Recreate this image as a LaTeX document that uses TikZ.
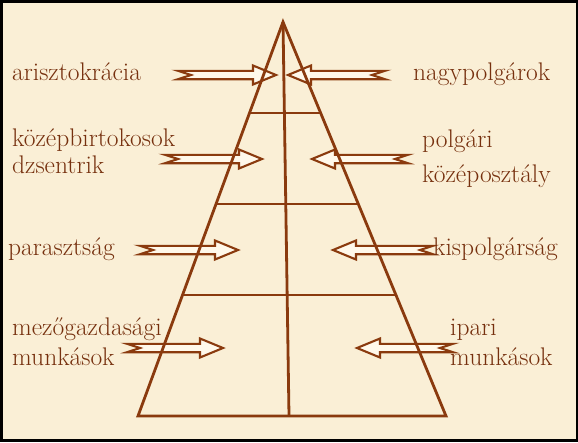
\documentclass[tikz,border=0pt]{standalone}
\usepackage{fontspec}
\usetikzlibrary{calc}

\definecolor{barna}{RGB}{138,58,14}
\definecolor{betu}{RGB}{118,48,14}
\definecolor{papir}{RGB}{250,239,214}
\definecolor{nyilbel}{RGB}{255,248,234}

\tikzset{
  cimke/.style={anchor=base west, inner sep=0pt, text=betu, font=\fontsize{25.5}{28}\selectfont},
  vonal/.style={draw=barna, line width=2.8pt},
  nyilkeret/.style={draw=barna, fill=nyilbel, line width=2.1pt},
}

% Bemetszett végű blokknyíl: #1 = vég x, #2 = csúcs x, #3 = y
\newcommand{\blokknyil}[3]{%
  \pgfmathsetmacro{\irany}{sign(#2-#1)}
  \draw[nyilkeret] (#1,#3-4.2) -- ({#2-\irany*23},#3-4.2) -- ({#2-\irany*23},#3-9.5)
    -- (#2,#3) -- ({#2-\irany*23},#3+9.5) -- ({#2-\irany*23},#3+4.2) -- (#1,#3+4.2)
    -- ({#1+\irany*13},#3) -- cycle;
}

\begin{document}
\begin{tikzpicture}[x=1pt,y=-1pt]
  % Keret és háttér
  \useasboundingbox (0,0) rectangle (578,442);
  \fill[black] (0,0) rectangle (578,442);
  \fill[papir] (3,3) rectangle (576,439);

  % Nyilak a piramis felé
  \blokknyil{178}{276}{75}
  \blokknyil{385}{288}{75}
  \blokknyil{165}{262}{159}
  \blokknyil{408}{312}{159}
  \blokknyil{140}{238}{250}
  \blokknyil{433}{333}{250}
  \blokknyil{127}{223}{348}
  \blokknyil{453}{357}{348}

  % Piramis
  \coordinate (csucs) at (283,22);
  \coordinate (bal) at (138,416);
  \coordinate (jobb) at (446,416);
  \coordinate (kozep) at (289,416);
  \draw[vonal] (bal) -- (csucs) -- (jobb) -- cycle;
  \draw[vonal] (csucs) -- (kozep);
  % Szintek
  \foreach \t in {0.231,0.462,0.693}
    \draw[vonal] ($(csucs)!\t!(bal)$) -- ($(csucs)!\t!(jobb)$);

  % Bal oldali feliratok
  \node[cimke] (ariszt) at (12,80) {arisztokrácia};
  \node[cimke] (kozepbirt) at (12,146) {középbirtokosok};
  \node[cimke] (dzsentri) at (12,173) {dzsentrik};
  \node[cimke] (paraszt) at (8,255) {parasztság};
  \node[cimke] (mezogazd) at (12,335) {mezőgazdasági};
  \node[cimke] (munkasb) at (12,365) {munkások};

  % Jobb oldali feliratok
  \node[cimke] (nagypolg) at (413,80) {nagypolgárok};
  \node[cimke] (polgari) at (422,147) {polgári};
  \node[cimke] (kozeposzt) at (422,182) {középosztály};
  \node[cimke] (kispolg) at (433,255) {kispolgárság};
  \node[cimke] (ipari) at (450,335) {ipari};
  \node[cimke] (munkasj) at (450,365) {munkások};
\end{tikzpicture}
\end{document}
